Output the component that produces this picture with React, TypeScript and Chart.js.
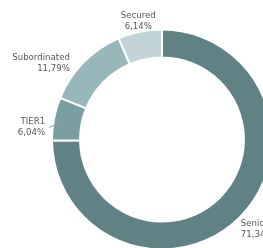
import React, { useEffect, useRef } from 'react';
import { Chart, registerables } from 'chart.js';

Chart.register(...registerables);

const CATEGORIES = ['Senior', 'TIER1', 'Subordinated', 'Secured'];
const VALUES = [71.34, 6.04, 11.79, 6.14];
const COLORS = ['#618285', '#7A9EA2', '#98B7BB', '#C2D4D7'];

// label placement styling (relative nudges from computed anchor)
const LABEL_NUDGE: [number, number][] = [[-5, 7], [-1, 10], [-8, 7], [0, -2.5]];
const LABEL_LEADER = [false, true, false, false];

const fmt = (v: number) => v.toFixed(2).replace('.', ',') + '%';

const outLabels = {
  id: 'outLabels',
  afterDatasetsDraw(chart: any) {
    const ctx = chart.ctx;
    const meta = chart.getDatasetMeta(0);
    ctx.save();
    ctx.font = '8.6px "DejaVu Sans", Verdana, sans-serif';
    ctx.textBaseline = 'middle';
    meta.data.forEach((arc: any, i: number) => {
      const p = arc.getProps(['x', 'y', 'startAngle', 'endAngle', 'outerRadius', 'innerRadius'], true);
      const mid = (p.startAngle + p.endAngle) / 2;
      const c = Math.cos(mid);
      const s = Math.sin(mid);
      const r = p.outerRadius + 8;
      const lx = p.x + c * r + LABEL_NUDGE[i][0];
      const ly = p.y + s * r + LABEL_NUDGE[i][1];
      let align: CanvasTextAlign = 'center';
      if (Math.abs(c) >= 0.3) align = c > 0 ? 'left' : 'right';
      if (LABEL_LEADER[i]) {
        const mr = (p.outerRadius + p.innerRadius) / 2;
        ctx.strokeStyle = '#9a9a9a';
        ctx.lineWidth = 1;
        ctx.beginPath();
        ctx.moveTo(p.x + c * mr, p.y + s * mr);
        ctx.lineTo(align === 'right' ? lx + 4 : lx - 4, ly);
        ctx.stroke();
      }
      ctx.fillStyle = '#595959';
      ctx.textAlign = align;
      ctx.fillText(CATEGORIES[i], lx, ly - 5.5);
      ctx.fillText(fmt(VALUES[i]), lx, ly + 5.5);
    });
    ctx.restore();
  },
};

export default function App() {
  const ref = useRef<HTMLCanvasElement | null>(null);
  useEffect(() => {
    document.body.style.margin = '0';
    const chart = new Chart(ref.current as HTMLCanvasElement, {
      type: 'doughnut',
      data: {
        labels: CATEGORIES,
        datasets: [
          {
            data: VALUES,
            backgroundColor: COLORS,
            borderColor: '#ffffff',
            borderWidth: 2,
            hoverOffset: 0,
          },
        ],
      },
      options: {
        animation: false,
        responsive: false,
        devicePixelRatio: 1,
        cutout: '74.5%',
        rotation: 0,
        layout: { padding: { left: 51, right: 27, top: 28.5, bottom: 9.5 } },
        plugins: { legend: { display: false }, tooltip: { enabled: false } },
      },
      plugins: [outLabels],
    });
    return () => chart.destroy();
  }, []);
  return (
    <div style={{ width: 263, height: 248, overflow: 'hidden', position: 'relative', background: '#fff' }}>
      <canvas ref={ref} width={300} height={260} style={{ width: 300, height: 260, display: 'block' }} />
    </div>
  );
}
